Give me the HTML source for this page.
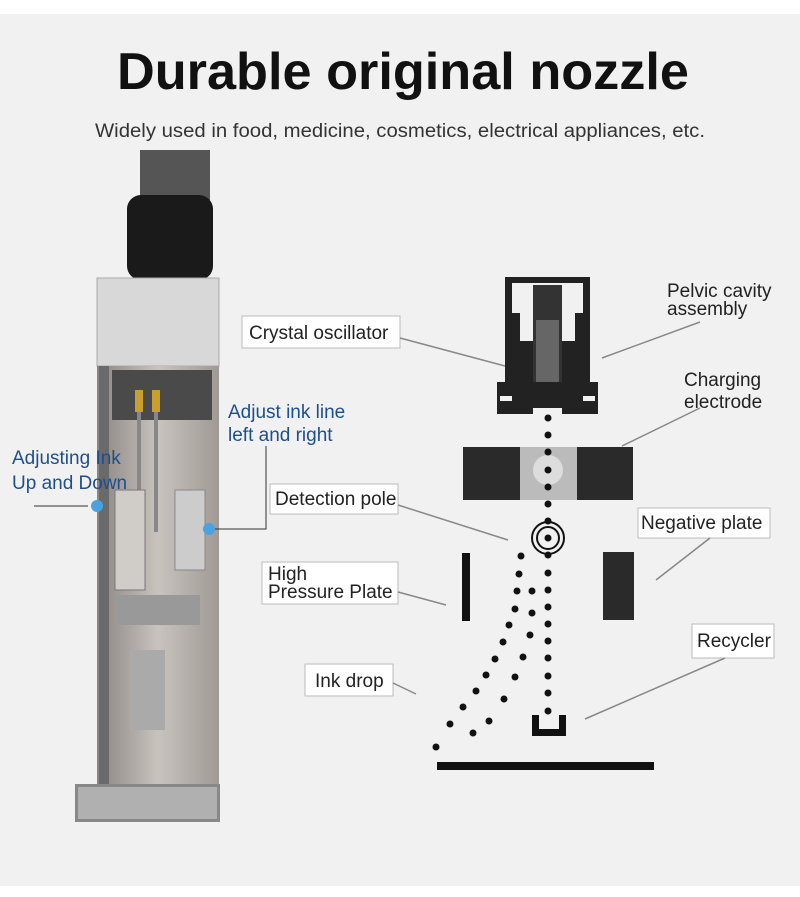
<!DOCTYPE html>
<html><head><meta charset="utf-8"><style>
body{margin:0;background:#fff}
.w{position:relative;width:800px;height:897px;background:#f1f1f1;overflow:hidden;font-family:"Liberation Sans",sans-serif}
</style></head><body><div class="w">
<svg width="800" height="897" xmlns="http://www.w3.org/2000/svg">
<defs><linearGradient id="m" x1="0" x2="1"><stop offset="0" stop-color="#8a8580"/><stop offset="0.5" stop-color="#c8c3be"/><stop offset="1" stop-color="#a09a95"/></linearGradient></defs>
<rect x="0" y="0" width="800" height="14" fill="#fff"/>
<rect x="0" y="886" width="800" height="11" fill="#fff"/>
<text x="403" y="89" text-anchor="middle" font-size="52" font-weight="bold" fill="#111" font-family="Liberation Sans" textLength="572" lengthAdjust="spacingAndGlyphs">Durable original nozzle</text>
<text x="400" y="137" text-anchor="middle" font-size="19" fill="#333" textLength="610" lengthAdjust="spacingAndGlyphs">Widely used in food, medicine, cosmetics, electrical appliances, etc.</text>
<!-- nozzle photo -->
<rect x="140" y="150" width="70" height="50" fill="#555"/>
<rect x="127" y="195" width="86" height="85" rx="14" fill="#1a1a1a"/>
<rect x="97" y="278" width="122" height="88" fill="#d8d8d8"/>
<rect x="97" y="278" width="122" height="88" fill="none" stroke="#aaa"/>
<rect x="97" y="366" width="122" height="418" fill="url(#m)"/>
<rect x="99" y="366" width="10" height="418" fill="#6a6a6a"/>
<rect x="112" y="370" width="100" height="50" fill="#4a4a4a"/>
<rect x="135" y="390" width="8" height="22" fill="#c9a030"/><rect x="152" y="390" width="8" height="22" fill="#c9a030"/>
<rect x="137" y="412" width="4" height="120" fill="#888"/><rect x="154" y="412" width="4" height="120" fill="#888"/>
<rect x="115" y="490" width="30" height="100" fill="#d0ccc8" stroke="#777"/>
<rect x="175" y="490" width="30" height="80" fill="#ccc" stroke="#888"/>
<rect x="115" y="595" width="85" height="30" fill="#999"/>
<rect x="130" y="650" width="35" height="80" fill="#aaa"/>
<rect x="75" y="784" width="145" height="38" fill="#888"/>
<rect x="78" y="787" width="139" height="32" fill="#b0b0b0"/>
<!-- blue labels -->
<g fill="#1d4f8f" font-size="19">
<text x="12" y="464">Adjusting Ink</text><text x="12" y="489">Up and Down</text>
<text x="228" y="418">Adjust ink line</text><text x="228" y="441">left and right</text>
</g>
<line x1="34" y1="506" x2="88" y2="506" stroke="#333"/>
<circle cx="97" cy="506" r="6" fill="#4aa3e0"/>
<polyline points="208,529 266,529 266,446" fill="none" stroke="#333"/>
<circle cx="209" cy="529" r="6" fill="#4aa3e0"/>
<!-- label boxes -->
<g fill="#fff" stroke="#bbb">
<rect x="242" y="316" width="158" height="32"/>
<rect x="270" y="484" width="128" height="30"/>
<rect x="262" y="562" width="136" height="42"/>
<rect x="305" y="664" width="88" height="32"/>
<rect x="638" y="508" width="132" height="30"/>
<rect x="692" y="624" width="82" height="34"/>
</g>
<g fill="#222" font-size="19">
<text x="249" y="339">Crystal oscillator</text>
<text x="275" y="505">Detection pole</text>
<text x="268" y="580">High</text><text x="268" y="598">Pressure Plate</text>
<text x="315" y="687">Ink drop</text>
<text x="667" y="297">Pelvic cavity</text><text x="667" y="315">assembly</text>
<text x="684" y="386">Charging</text><text x="684" y="408">electrode</text>
<text x="641" y="529">Negative plate</text>
<text x="697" y="647">Recycler</text>
</g>
<g stroke="#888" stroke-width="1.5" fill="none">
<line x1="400" y1="338" x2="505" y2="366"/>
<line x1="398" y1="505" x2="508" y2="540"/>
<line x1="398" y1="592" x2="446" y2="605"/>
<line x1="393" y1="683" x2="416" y2="694"/>
<line x1="700" y1="322" x2="602" y2="358"/>
<line x1="700" y1="408" x2="622" y2="446"/>
<line x1="710" y1="538" x2="656" y2="580"/>
<line x1="725" y1="658" x2="585" y2="719"/>
</g>
<!-- schematic -->
<g fill="#111">
<rect x="505" y="277" width="85" height="137" fill="#222"/>
<rect x="512" y="283" width="71" height="30" fill="#f1f1f1"/>
<rect x="520" y="313" width="14" height="28" fill="#f1f1f1"/>
<rect x="561" y="313" width="14" height="28" fill="#f1f1f1"/>
<rect x="533" y="285" width="29" height="126" fill="#333"/>
<rect x="536" y="320" width="23" height="88" fill="#666"/>
<rect x="497" y="382" width="101" height="32" fill="#222"/>
<rect x="500" y="396" width="12" height="5" fill="#f1f1f1"/>
<rect x="583" y="396" width="12" height="5" fill="#f1f1f1"/>
<rect x="533" y="408" width="29" height="6" fill="#f1f1f1"/>
<rect x="463" y="447" width="57" height="53" fill="#2a2a2a"/>
<rect x="520" y="447" width="57" height="53" fill="#bbb"/>
<circle cx="548" cy="470" r="15" fill="#ddd"/>
<rect x="577" y="447" width="56" height="53" fill="#2a2a2a"/>
<circle cx="548" cy="538" r="16" fill="none" stroke="#111" stroke-width="2"/>
<circle cx="548" cy="538" r="11" fill="none" stroke="#111" stroke-width="2"/>
<rect x="462" y="553" width="8" height="68"/>
<rect x="603" y="552" width="31" height="68" fill="#2a2a2a"/>
<path d="M532,715 h7 v14 h20 v-14 h7 v21 h-34z"/>
<rect x="437" y="762" width="217" height="8"/>
</g>
<g fill="#111">
<circle cx="548" cy="418" r="3.5"/><circle cx="548" cy="435" r="3.5"/><circle cx="548" cy="452" r="3.5"/><circle cx="548" cy="470" r="3.5"/><circle cx="548" cy="487" r="3.5"/><circle cx="548" cy="504" r="3.5"/><circle cx="548" cy="521" r="3.5"/><circle cx="548" cy="538" r="3.5"/><circle cx="548" cy="555" r="3.5"/><circle cx="548" cy="573" r="3.5"/><circle cx="548" cy="590" r="3.5"/><circle cx="548" cy="607" r="3.5"/><circle cx="548" cy="624" r="3.5"/><circle cx="548" cy="641" r="3.5"/><circle cx="548" cy="658" r="3.5"/><circle cx="548" cy="676" r="3.5"/><circle cx="548" cy="693" r="3.5"/><circle cx="548" cy="711" r="3.5"/>
<circle cx="521" cy="556" r="3.5"/><circle cx="519" cy="574" r="3.5"/><circle cx="517" cy="591" r="3.5"/><circle cx="515" cy="609" r="3.5"/><circle cx="509" cy="625" r="3.5"/><circle cx="503" cy="642" r="3.5"/><circle cx="495" cy="659" r="3.5"/><circle cx="486" cy="675" r="3.5"/><circle cx="476" cy="691" r="3.5"/><circle cx="463" cy="707" r="3.5"/><circle cx="450" cy="724" r="3.5"/><circle cx="436" cy="747" r="3.5"/>
<circle cx="532" cy="591" r="3.5"/><circle cx="532" cy="613" r="3.5"/><circle cx="530" cy="635" r="3.5"/><circle cx="523" cy="657" r="3.5"/><circle cx="515" cy="677" r="3.5"/><circle cx="504" cy="699" r="3.5"/><circle cx="489" cy="721" r="3.5"/><circle cx="473" cy="733" r="3.5"/>
</g>
</svg>
</div></body></html>
